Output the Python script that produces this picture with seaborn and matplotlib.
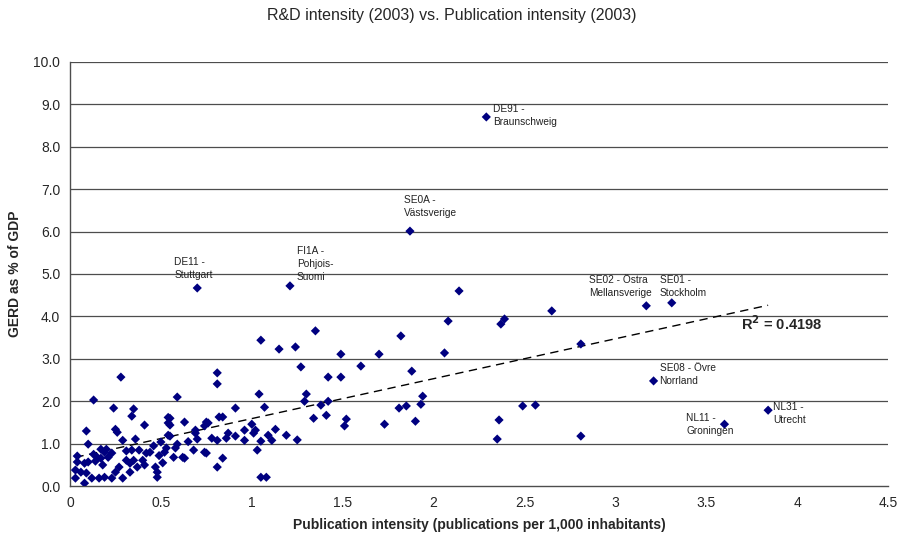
import numpy as np
import pandas as pd
import matplotlib
matplotlib.use('Agg')
import matplotlib.pyplot as plt
import seaborn as sns

# labelled regions
label_names = ['DE91 -\nBraunschweig', 'SE0A -\nVästsverige', 'DE11 -\nStuttgart',
               'FI1A -\nPohjois-\nSuomi', 'SE02 - Östra\nMellansverige', 'SE01 -\nStockholm',
               'SE08 - Övre\nNorrland', 'NL11 -\nGroningen', 'NL31 -\nUtrecht']
label_x = [2.29, 1.87, 0.70, 1.21, 3.17, 3.31, 3.21, 3.60, 3.84]
label_y = [8.70, 6.01, 4.67, 4.72, 4.25, 4.32, 2.48, 1.46, 1.79]
# offsets of the text block (pixels) from its point
label_dx = [7, -6, -23, 7, -57, -12, 6, -38, 5]
label_dy = [13, 36, 31, 40, 31, 28, 18, 11, 8]

# all other regions (publication intensity, GERD %)
other_x = [2.14, 2.08, 2.37, 2.39, 2.65, 2.81, 2.06, 1.82, 1.70, 1.49, 1.35, 1.24, 1.15, 1.05,
           1.27, 1.42, 1.49, 1.60, 1.88,
           1.30, 1.29, 1.38, 1.42, 1.34, 1.41, 1.52, 1.51, 1.73, 1.81, 1.85, 1.93, 1.94, 1.90,
           2.49, 2.56, 2.36, 2.35, 2.81,
           1.04, 1.07, 1.13, 1.11, 1.19, 1.25,
           0.96, 0.96, 1.01, 1.02, 1.03, 1.05, 1.09, 1.05, 1.08,
           0.59, 0.91, 0.82, 0.84, 0.55, 0.54, 0.63, 0.76, 0.74, 0.69, 0.55, 0.70, 0.78, 0.81,
           0.87, 0.86, 0.91, 0.59, 0.58, 0.57, 0.53, 0.63, 0.68, 0.74, 0.75, 0.84, 0.81,
           0.13, 0.24, 0.35, 0.34, 0.41, 0.09, 0.25, 0.26, 0.29, 0.36, 0.10, 0.04, 0.17, 0.20,
           0.19, 0.13, 0.15, 0.17, 0.23, 0.31, 0.34, 0.38, 0.42, 0.44, 0.04, 0.08, 0.10, 0.14,
           0.21, 0.18, 0.27, 0.31, 0.33, 0.35, 0.40, 0.41, 0.37, 0.03, 0.06, 0.09, 0.03, 0.08,
           0.12, 0.16, 0.19, 0.23, 0.29, 0.25, 0.33, 0.47, 0.48, 0.48, 0.50, 0.54, 0.28, 0.81,
           0.81, 0.54, 0.55, 0.75, 0.69, 0.62, 0.65, 0.51, 0.52, 0.46, 0.49, 1.00]
other_y = [4.60, 3.89, 3.82, 3.94, 4.13, 3.35, 3.14, 3.54, 3.11, 3.11, 3.66, 3.28, 3.23, 3.44,
           2.81, 2.57, 2.57, 2.83, 2.71,
           2.17, 2.00, 1.91, 2.00, 1.60, 1.67, 1.58, 1.42, 1.46, 1.84, 1.89, 1.93, 2.12, 1.53,
           1.89, 1.91, 1.56, 1.11, 1.18,
           2.17, 1.86, 1.34, 1.08, 1.20, 1.09,
           1.32, 1.08, 1.25, 1.32, 0.85, 1.06, 1.20, 0.21, 0.21,
           2.10, 1.84, 1.63, 1.63, 1.60, 1.49, 1.51, 1.49, 1.42, 1.32, 1.18, 1.11, 1.13, 1.08,
           1.25, 1.13, 1.18, 0.99, 0.90, 0.68, 0.90, 0.66, 0.85, 0.80, 0.78, 0.66, 0.45,
           2.03, 1.84, 1.82, 1.65, 1.44, 1.30, 1.34, 1.27, 1.08, 1.11, 0.99, 0.71, 0.87, 0.87,
           0.80, 0.75, 0.68, 0.66, 0.78, 0.83, 0.85, 0.85, 0.78, 0.80, 0.57, 0.54, 0.57, 0.59,
           0.68, 0.50, 0.45, 0.61, 0.54, 0.61, 0.61, 0.50, 0.45, 0.38, 0.33, 0.31, 0.19, 0.07,
           0.19, 0.19, 0.21, 0.19, 0.19, 0.33, 0.33, 0.45, 0.33, 0.21, 1.04, 1.20, 2.57, 2.67,
           2.41, 1.62, 1.44, 1.51, 1.25, 0.68, 1.05, 0.55, 0.80, 0.95, 0.72, 1.46]

r2_text = 'R$^\\mathbf{2}$ = 0.4198'

df = pd.DataFrame({'pub': other_x + label_x, 'gerd': other_y + label_y})

sns.set_style('white')
plt.rcParams['font.family'] = ['Liberation Sans', 'DejaVu Sans']

fig = plt.figure(figsize=(9.03, 5.42), dpi=100)
ax = fig.add_axes([0.0775, 0.103, 0.906, 0.783])

# horizontal gridlines
for yv in np.arange(1, 11):
    ax.axhline(yv, color='#4d4d4d', lw=0.9, zorder=0)

sns.regplot(data=df, x='pub', y='gerd', scatter=False, ci=None, ax=ax,
            line_kws={'color': 'black', 'lw': 1.0, 'ls': (0, (6, 4))})
sns.scatterplot(data=df, x='pub', y='gerd', marker='D', s=22, color='#000080',
                edgecolor='none', ax=ax, zorder=3)

for name, x, y, dx, dy in zip(label_names, label_x, label_y, label_dx, label_dy):
    ax.annotate(name, (x, y), xytext=(dx, dy), textcoords='offset pixels',
                ha='left', va='top', fontsize=7.3, color='#222222', linespacing=1.4)

ax.text(3.69, 3.82, r2_text, fontsize=10.5, fontweight='bold', ha='left', va='center')

ax.set_xlim(0, 4.5)
ax.set_ylim(0, 10)
ax.set_xticks(np.arange(0, 4.51, 0.5))
ax.set_xticklabels(['0', '0.5', '1', '1.5', '2', '2.5', '3', '3.5', '4', '4.5'])
ax.set_yticks(np.arange(0, 10.01, 1))
ax.set_yticklabels([f'{v:.1f}' for v in np.arange(0, 10.01, 1)])
ax.tick_params(axis='both', direction='out', length=4, width=0.9, color='#4d4d4d',
               labelsize=10, pad=3)

for side in ['top', 'right']:
    ax.spines[side].set_visible(False)
for side in ['left', 'bottom']:
    ax.spines[side].set_color('#4d4d4d')
    ax.spines[side].set_linewidth(1.0)

ax.set_xlabel('Publication intensity (publications per 1,000 inhabitants)',
              fontsize=10, fontweight='bold', labelpad=6)
ax.set_ylabel('GERD as % of GDP', fontsize=10, fontweight='bold', labelpad=8)
fig.suptitle('R&D intensity (2003) vs. Publication intensity (2003)', fontsize=11.5, y=0.985)

fig.savefig('out.png', dpi=100)
